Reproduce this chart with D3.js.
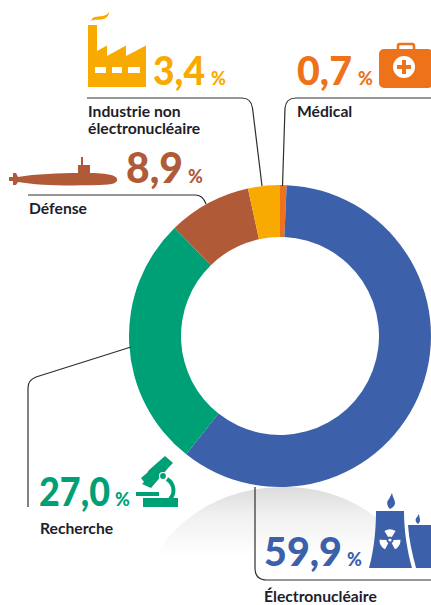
<!DOCTYPE html>
<html><head><meta charset="utf-8">
<script src="https://cdn.jsdelivr.net/npm/d3@7/dist/d3.min.js"></script>
<style>html,body{margin:0;padding:0;background:#fff;overflow:hidden}svg{display:block}
text{font-family:Lato,sans-serif}</style></head><body>
<script>
const categories=["Médical","Électronucléaire","Recherche","Défense","Industrie non électronucléaire"];
const values=[0.7,59.9,27.0,8.9,3.4];
const valueLabels=["0,7","59,9","27,0","8,9","3,4"];
const colors=["#ee7219","#3c60a9","#00a077","#b05a38","#f8aa00"];

const svg=d3.select("body").append("svg").attr("width",431).attr("height",605);
const defs=svg.append("defs");
const g=defs.append("linearGradient").attr("id","sh").attr("x1",0).attr("x2",0).attr("y1",0).attr("y2",1);
g.append("stop").attr("offset",0).attr("stop-color","#dcdcdc");
g.append("stop").attr("offset",0.4).attr("stop-color","#f0f0f0");
g.append("stop").attr("offset",1).attr("stop-color","#ffffff");
svg.append("path").attr("d","M155,556 C180,515 225,487 285,487 C330,487 370,505 400,540 L400,556 Z").attr("fill","url(#sh)");

const cx=280,cy=336;
const pie=d3.pie().sort(null).value(d=>d)(values);
const arc=d3.arc().innerRadius(99).outerRadius(151);
svg.append("g").attr("transform",`translate(${cx},${cy})`).selectAll("path").data(pie).join("path")
 .attr("d",arc).attr("fill",(d,i)=>colors[i]);

const leaders=[
"M87,98H242Q251,98 252.5,108L262,186",
"M431,98H296Q286,98 285,108L282.5,186",
"M28,195H195Q203,195 206,204",
"M131,347L36,377Q28,380 28,388V507",
"M255,487V568Q255,580 267,580H431"];
svg.append("g").attr("fill","none").attr("stroke","#2e2e2e").attr("stroke-width",1.2)
 .selectAll("path").data(leaders).join("path").attr("d",d=>d);

// x, baseline, % x, number width, font size
const numPos=[[297,85,358,55,40],[264,566,347,78,39],[39,506,115,71,39],[126,183,188,57,42],[153,85,211,52,40]];
valueLabels.forEach((t,i)=>{
 const p=numPos[i];
 svg.append("text").attr("x",p[0]).attr("y",p[1]).attr("font-size",p[4]).attr("font-weight",900).attr("fill",colors[i])
  .attr("textLength",p[3]).attr("lengthAdjust","spacingAndGlyphs").text(t);
 svg.append("text").attr("x",p[2]).attr("y",p[1]).attr("font-size",18).attr("font-weight",900).attr("fill",colors[i]).text("%");
});
const labelRows=[[297,117,"Médical"],[264,602,"Électronucléaire"],[40,534,"Recherche"],[29,214,"Défense"],[88,117,"Industrie non"],[88,134,"électronucléaire"]];
svg.append("g").selectAll("text").data(labelRows).join("text").attr("x",d=>d[0]).attr("y",d=>d[1])
 .attr("font-size",15.7).attr("font-weight",700).attr("fill","#1d1d2b").text(d=>d[2]);

// Factory
svg.append("path").attr("fill",colors[4]).attr("fill-rule","evenodd")
 .attr("d","M88,25H97V51L107,45.5V56L126,45.5V56L146,45.5V87H88Z M95,67H106V73H95Z M112,67H122V73H112Z M128,67H140V73H128Z");
svg.append("path").attr("fill",colors[4]).attr("d","M91,21C93,15 99,17 103,16C106,15 108,14 109,12C109,16 106,19 101,19.500C97,20 94,19 91,21Z");
// Medical case
svg.append("rect").attr("x",379).attr("y",49).attr("width",54).attr("height",39).attr("rx",5).attr("fill",colors[0]);
svg.append("path").attr("fill","none").attr("stroke",colors[0]).attr("stroke-width",2.6).attr("d","M398,50V46Q398,44 400,44H412Q414,44 414,46V50");
svg.append("circle").attr("cx",404).attr("cy",67).attr("r",11).attr("fill","#fff");
svg.append("path").attr("fill",colors[0]).attr("d","M402,60H406V65H411V69H406V74H402V69H397V65H402Z");
// Submarine
svg.append("path").attr("fill",colors[3])
 .attr("d","M9,177L13,177L13,173L16,173L18,177C35,174 60,173 78,173V165H81V157H83V165H90V173C100,173 110,174 114,176Q118,178 117,181Q115,184 108,184.500C80,186 40,186 18,182L16,185H13V181H9Z");
// Microscope
svg.append("path").attr("fill",colors[2]).attr("d","M165,456L173,463L169,467L151,488L142,484L144,482L141,478L147,473L149,470Z");
svg.append("path").attr("fill","none").attr("stroke",colors[2]).attr("stroke-width",4).attr("d","M167,479C175,484 175,494 170,499");
svg.append("circle").attr("cx",163).attr("cy",476).attr("r",3.5).attr("fill",colors[2]).attr("stroke","#fff").attr("stroke-width",1.2);
svg.append("rect").attr("x",136).attr("y",492).attr("width",23).attr("height",4).attr("fill",colors[2]);
svg.append("rect").attr("x",143).attr("y",498).attr("width",35).attr("height",9).attr("fill",colors[2]);
// Cooling towers
svg.append("path").attr("fill",colors[1]).attr("d","M376,511H404C404,530 407,550 412,568H369C374,550 376,530 376,511Z");
svg.append("path").attr("fill",colors[1]).attr("d","M408,525H431V568H416C412,553 409,540 408,525Z");
svg.append("path").attr("fill",colors[1]).attr("d","M392,493C393,498 395,500 395,503C395,506 392,508 390,509C387,506 386,502 389,499C390,497 391,495 392,493Z M419,514C419,516 420,518 420,520C420,522 419,523 418,524C415,522 415,519 417,517C418,516 418,515 419,514Z");
const blade=d3.arc().innerRadius(3.5).outerRadius(10.5);
svg.append("g").attr("transform","translate(390,540)").attr("fill","#fff")
 .selectAll("path").data([0,120,240]).join("path")
 .attr("d",a=>blade({startAngle:(a-32)*Math.PI/180,endAngle:(a+32)*Math.PI/180}));
svg.append("circle").attr("cx",390).attr("cy",540).attr("r",1.6).attr("fill","#fff");
</script></body></html>
